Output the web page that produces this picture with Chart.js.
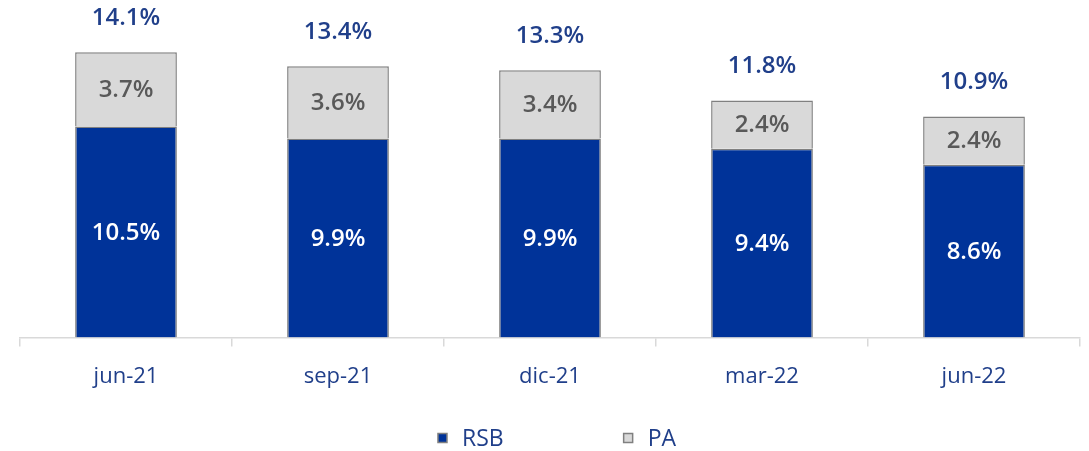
<!DOCTYPE html>
<html>
<head>
<meta charset="utf-8">
<script src="https://cdn.jsdelivr.net/npm/chart.js@4"></script>
<style>
  html, body { margin: 0; padding: 0; background: #fff; }
  #wrap { width: 1089px; height: 451px; position: relative; }
</style>
</head>
<body>
<div id="wrap"><canvas id="graph"></canvas></div>
<script>
// datos del gráfico
const periodos = ['jun-21', 'sep-21', 'dic-21', 'mar-22', 'jun-22'];
const rsb = [10.5, 9.9, 9.9, 9.4, 8.6];
const pa = [3.7, 3.6, 3.4, 2.4, 2.4];
const totales = [14.1, 13.4, 13.3, 11.8, 10.9];

const AZUL = '#003399';
const GRIS = '#D9D9D9';
const BORDE = '#808080';
const TEXTO = '#203F8A';
const FUENTE = "'Open Sans', 'Noto Sans', sans-serif";

// etiquetas dentro de cada barra, total arriba y leyenda abajo
const etiquetas = {
  id: 'etiquetas',
  afterDatasetsDraw(chart) {
    const ctx = chart.ctx;
    ctx.save();
    ctx.textAlign = 'center';
    ctx.textBaseline = 'middle';
    chart.data.datasets.forEach((ds, i) => {
      const meta = chart.getDatasetMeta(i);
      meta.data.forEach((bar, j) => {
        const yMid = (bar.y + bar.base) / 2;
        ctx.font = '600 24px ' + FUENTE;
        ctx.fillStyle = i === 0 ? '#ffffff' : '#595959';
        ctx.fillText(ds.data[j].toFixed(1) + '%', bar.x, yMid + 1);
      });
    });
    const top = chart.getDatasetMeta(1);
    top.data.forEach((bar, j) => {
      ctx.font = '600 24px ' + FUENTE;
      ctx.fillStyle = TEXTO;
      ctx.fillText(totales[j].toFixed(1) + '%', bar.x, bar.y - 34);
    });
    ctx.restore();
  },
  afterDraw(chart) {
    const ctx = chart.ctx;
    ctx.save();
    ctx.font = '23px ' + FUENTE;
    ctx.textBaseline = 'middle';
    ctx.textAlign = 'left';
    const caja = 9, hueco = 15, sep = 120;
    const items = chart.data.datasets.map(ds => ({
      texto: ds.label, color: ds.backgroundColor,
      ancho: caja + hueco + ctx.measureText(ds.label).width
    }));
    const total = items.reduce((s, it) => s + it.ancho, 0) + sep * (items.length - 1);
    const centro = (chart.chartArea.left + chart.chartArea.right) / 2 + 7;
    let x = centro - total / 2;
    const y = 438;
    items.forEach(it => {
      ctx.fillStyle = it.color;
      ctx.strokeStyle = BORDE;
      ctx.lineWidth = 1.5;
      ctx.fillRect(x, y - caja / 2, caja, caja);
      ctx.strokeRect(x, y - caja / 2, caja, caja);
      ctx.fillStyle = TEXTO;
      ctx.fillText(it.texto, x + caja + hueco, y + 1);
      x += it.ancho + sep;
    });
    ctx.restore();
  }
};

new Chart(document.getElementById('graph'), {
  type: 'bar',
  data: {
    labels: periodos,
    datasets: [
      { label: 'RSB', data: rsb, backgroundColor: AZUL, borderColor: BORDE, borderWidth: 1.5, barPercentage: 0.96, categoryPercentage: 0.5 },
      { label: 'PA', data: pa, backgroundColor: GRIS, borderColor: BORDE, borderWidth: 1.5, barPercentage: 0.96, categoryPercentage: 0.5 }
    ]
  },
  options: {
    responsive: true,
    maintainAspectRatio: false,
    animation: false,
    layout: { padding: { left: 20, right: 9, top: 16, bottom: 44 } },
    plugins: {
      legend: { display: false },
      tooltip: { enabled: false }
    },
    scales: {
      x: {
        stacked: true,
        grid: { display: true, drawOnChartArea: false, offset: true, tickLength: 9, color: '#D9D9D9', lineWidth: 1.5 },
        border: { display: true, color: '#D9D9D9', width: 1.5 },
        ticks: { color: TEXTO, font: { family: FUENTE, size: 22 }, padding: 17 }
      },
      y: {
        stacked: true,
        display: false,
        min: 0,
        max: 16
      }
    }
  },
  plugins: [etiquetas]
});
</script>
</body>
</html>
